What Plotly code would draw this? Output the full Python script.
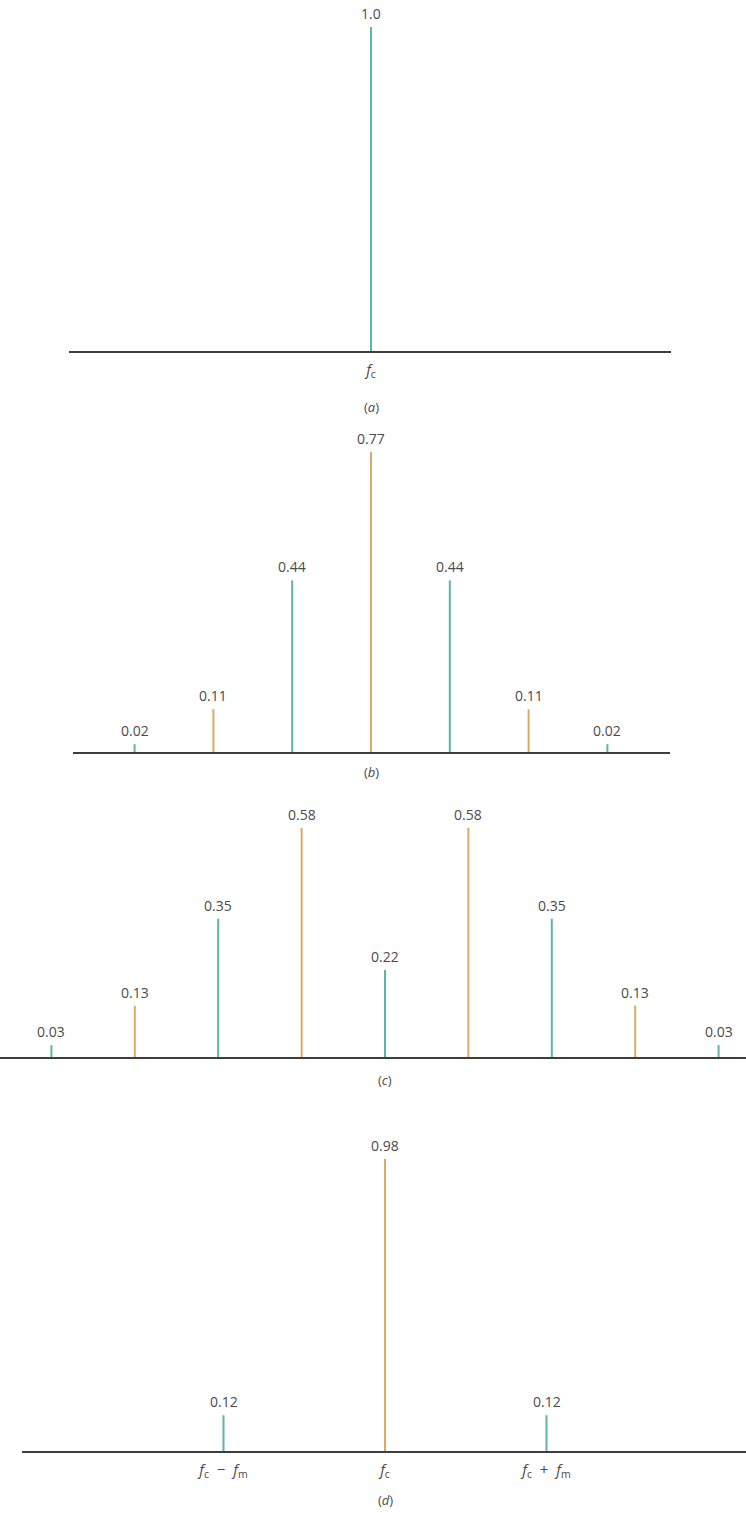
import plotly.graph_objects as go

W, H = 746, 1513

# ---------------- data ----------------
# panel (a): unmodulated carrier
a_index = [0]
a_values = [1.0]
a_labels = ["1.0"]
a_ticks = ["<i>f</i><sub>c</sub>"]

# panel (b): sidebands n = -3..3
b_index = [-3, -2, -1, 0, 1, 2, 3]
b_values = [0.02, 0.11, 0.44, 0.77, 0.44, 0.11, 0.02]
b_labels = ["0.02", "0.11", "0.44", "0.77", "0.44", "0.11", "0.02"]

# panel (c): sidebands n = -4..4
c_index = [-4, -3, -2, -1, 0, 1, 2, 3, 4]
c_values = [0.03, 0.13, 0.35, 0.58, 0.22, 0.58, 0.35, 0.13, 0.03]
c_labels = ["0.03", "0.13", "0.35", "0.58", "0.22", "0.58", "0.35", "0.13", "0.03"]

# panel (d): narrowband FM
d_index = [-1, 0, 1]
d_values = [0.12, 0.98, 0.12]
d_labels = ["0.12", "0.98", "0.12"]
d_ticks = ["<i>f</i><sub>c</sub>&nbsp;&nbsp;−&nbsp;&nbsp;<i>f</i><sub>m</sub>",
           "<i>f</i><sub>c</sub>",
           "<i>f</i><sub>c</sub>&nbsp;&nbsp;+&nbsp;&nbsp;<i>f</i><sub>m</sub>"]

captions = ["(<i>a</i>)", "(<i>b</i>)", "(<i>c</i>)", "(<i>d</i>)"]

# ---------------- style ----------------
TEAL = "#5db3ad"
GOLD = "#dcaa66"
AXIS = "#3d3d3d"
TXT = "#4a4a4a"
FONT = "Open Sans"

a_colors = [TEAL]
b_colors = [TEAL, GOLD, TEAL, GOLD, TEAL, GOLD, TEAL]
c_colors = [TEAL, GOLD, TEAL, GOLD, TEAL, GOLD, TEAL, GOLD, TEAL]
d_colors = [TEAL, GOLD, TEAL]

# layout geometry (pixels): baseline, top, x-left, x-right, center px, spacing px, px per unit
panels = [
    dict(idx=a_index, val=a_values, lab=a_labels, col=a_colors, ticks=a_ticks,
         base=351, top=0, xl=69, xr=671, cx=371, dx=100, scale=324, cap_y=407),
    dict(idx=b_index, val=b_values, lab=b_labels, col=b_colors, ticks=None,
         base=752, top=430, xl=73, xr=670, cx=371, dx=78.8, scale=390, cap_y=772),
    dict(idx=c_index, val=c_values, lab=c_labels, col=c_colors, ticks=None,
         base=1057, top=790, xl=0, xr=746, cx=385, dx=83.4, scale=395, cap_y=1080),
    dict(idx=d_index, val=d_values, lab=d_labels, col=d_colors, ticks=d_ticks,
         base=1451, top=1110, xl=22, xr=746, cx=385, dx=161.5, scale=298, cap_y=1500),
]

fig = go.Figure()
layout = dict(
    width=W, height=H, autosize=False,
    margin=dict(l=0, r=0, t=0, b=0),
    paper_bgcolor="white", plot_bgcolor="rgba(0,0,0,0)",
    showlegend=False,
    font=dict(family=FONT, size=14, color=TXT),
)
annotations = []

for k, p in enumerate(panels):
    sfx = "" if k == 0 else str(k + 1)
    xname, yname = "x" + sfx, "y" + sfx
    for n, v, c in zip(p["idx"], p["val"], p["col"]):
        fig.add_trace(go.Scatter(
            x=[n, n], y=[0, v], mode="lines",
            line=dict(color=c, width=2), xaxis=xname, yaxis=yname,
            hoverinfo="skip",
        ))
    for n, v, t in zip(p["idx"], p["val"], p["lab"]):
        annotations.append(dict(
            x=n, y=v, xref=xname, yref=yname, text=t, showarrow=False,
            yanchor="bottom", yshift=2, font=dict(family=FONT, size=14, color=TXT),
        ))
    xr = [(p["xl"] - p["cx"]) / p["dx"], (p["xr"] - p["cx"]) / p["dx"]]
    xax = dict(
        domain=[p["xl"] / W, p["xr"] / W], range=xr, anchor=yname,
        showline=True, linecolor=AXIS, linewidth=2, showgrid=False, zeroline=False,
        ticks="", fixedrange=True,
    )
    if p["ticks"]:
        xax.update(tickmode="array", tickvals=p["idx"], ticktext=p["ticks"],
                   showticklabels=True, ticklabelstandoff=4,
                   tickfont=dict(family=FONT, size=15, color=TXT))
    else:
        xax.update(showticklabels=False)
    yax = dict(
        domain=[1 - p["base"] / H, 1 - p["top"] / H],
        range=[0, (p["base"] - p["top"]) / p["scale"]], anchor=xname,
        visible=False, fixedrange=True,
    )
    layout["xaxis" + sfx] = xax
    layout["yaxis" + sfx] = yax
    annotations.append(dict(
        x=p["cx"] / W, y=1 - p["cap_y"] / H, xref="paper", yref="paper",
        text=captions[k], showarrow=False, xanchor="center", yanchor="middle",
        font=dict(family=FONT, size=13, color=TXT),
    ))

layout["annotations"] = annotations
fig.update_layout(**layout)
fig.write_html(
    "out.html",
    config={"displayModeBar": False},
    post_script="document.body.style.margin='0';document.body.style.overflow='hidden';",
)
